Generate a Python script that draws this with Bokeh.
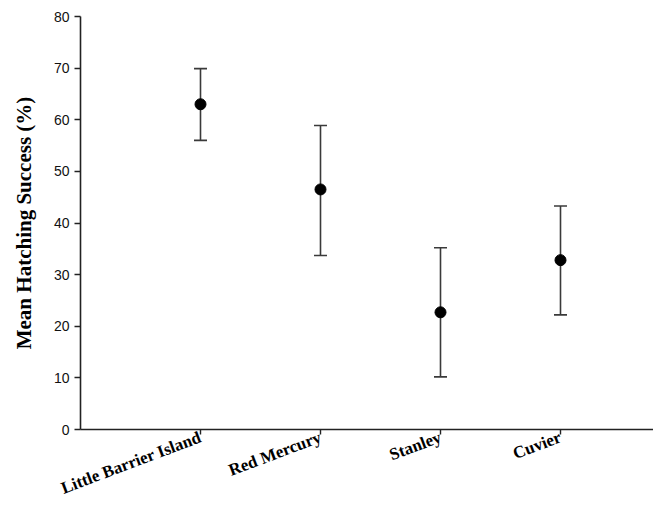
from bokeh.plotting import figure
from bokeh.models import ColumnDataSource, Whisker, TeeHead, FixedTicker, Range1d
from bokeh.embed import file_html
from bokeh.resources import INLINE

sites = ["Little Barrier Island", "Red Mercury", "Stanley", "Cuvier"]
means = [63.0, 46.5, 22.7, 32.8]
upper = [69.9, 58.9, 35.2, 43.3]
lower = [56.0, 33.7, 10.2, 22.2]
y_ticks = [0, 10, 20, 30, 40, 50, 60, 70, 80]

xpos = list(range(1, len(sites) + 1))
src = ColumnDataSource(dict(x=xpos, mean=means, upper=upper, lower=lower))

p = figure(frame_width=573, frame_height=413, output_backend="svg", toolbar_location=None,
           x_range=Range1d(0, 4.775), y_range=Range1d(0, 80),
           min_border_left=80, min_border_right=0, min_border_top=16, min_border_bottom=77)
p.outline_line_color = None
p.xgrid.visible = False
p.ygrid.visible = False
p.background_fill_color = "white"
p.border_fill_color = "white"

w = Whisker(source=src, base="x", upper="upper", lower="lower",
            line_color="#3a3a3a", line_width=1.6,
            upper_head=TeeHead(size=13, line_color="#3a3a3a", line_width=1.6),
            lower_head=TeeHead(size=13, line_color="#3a3a3a", line_width=1.6))
p.add_layout(w)
p.scatter("x", "mean", source=src, size=11, color="black")

p.xaxis.ticker = FixedTicker(ticks=xpos)
p.xaxis.major_label_overrides = {i: s for i, s in zip(xpos, sites)}
p.xaxis.major_label_orientation = 0.36
p.xaxis.major_label_text_font = "Liberation Serif"
p.xaxis.major_label_text_font_style = "bold"
p.xaxis.major_label_text_font_size = "17px"
p.xaxis.major_label_text_color = "black"
p.xaxis.major_label_standoff = 2
p.xaxis.major_tick_in = 0
p.xaxis.major_tick_out = 5
p.xaxis.minor_tick_line_color = None

p.yaxis.ticker = FixedTicker(ticks=y_ticks)
p.yaxis.major_label_text_font = "Liberation Sans"
p.yaxis.major_label_text_font_size = "14px"
p.yaxis.major_label_text_color = "#111111"
p.yaxis.major_tick_in = 0
p.yaxis.major_tick_out = 6
p.yaxis.minor_tick_line_color = None
p.yaxis.axis_label = "Mean Hatching Success (%)"
p.yaxis.axis_label_text_font = "Liberation Serif"
p.yaxis.axis_label_text_font_style = "bold"
p.yaxis.axis_label_text_font_size = "21px"
p.yaxis.axis_label_text_color = "black"
p.yaxis.axis_label_standoff = 15

for ax in (p.xaxis, p.yaxis):
    ax.axis_line_color = "#222222"
    ax.axis_line_width = 1.6
    ax.major_tick_line_color = "#222222"
    ax.major_tick_line_width = 1.4

open("out.html", "w").write(file_html(p, INLINE))
